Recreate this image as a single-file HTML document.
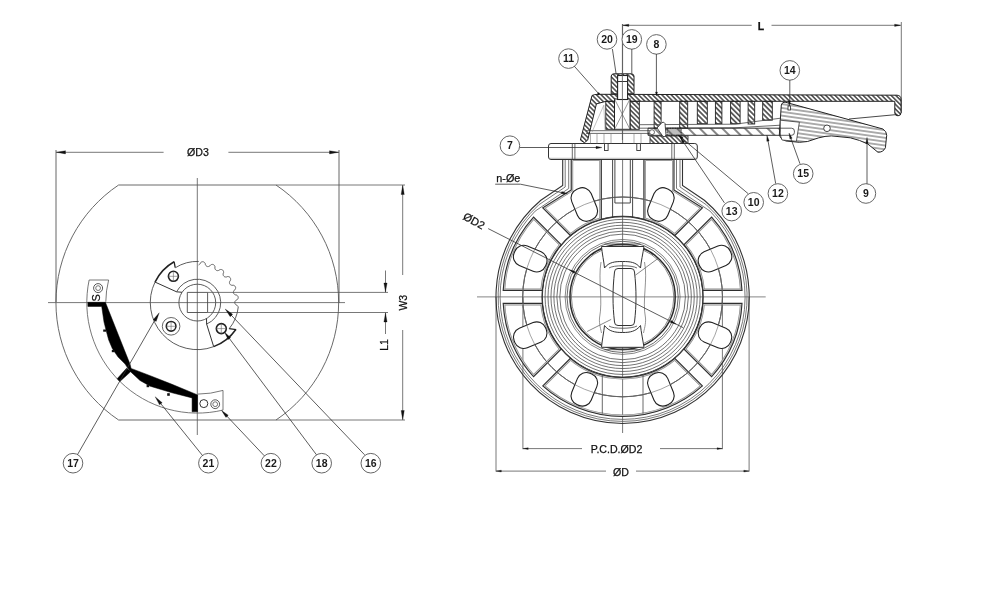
<!DOCTYPE html>
<html><head><meta charset="utf-8"><style>
html,body{margin:0;padding:0;background:#fff;}
svg{display:block;filter:blur(0.35px);font-family:"Liberation Sans",sans-serif;}
</style></head><body>
<svg width="1000" height="597" viewBox="0 0 1000 597">
<defs><pattern id="h45" patternUnits="userSpaceOnUse" width="3.3" height="3.3" patternTransform="rotate(-45)"><line x1="1.65" y1="0" x2="1.65" y2="3.3" stroke="#2a2a2a" stroke-width="1.3"/></pattern><pattern id="h45w" patternUnits="userSpaceOnUse" width="3.6" height="3.6" patternTransform="rotate(-45)"><line x1="1.8" y1="0" x2="1.8" y2="3.6" stroke="#2a2a2a" stroke-width="1.4"/></pattern><pattern id="h45c" patternUnits="userSpaceOnUse" width="8" height="8" patternTransform="rotate(-45)"><line x1="4.0" y1="0" x2="4.0" y2="8" stroke="#222" stroke-width="1.1"/></pattern><pattern id="hlev" patternUnits="userSpaceOnUse" width="4" height="3.8" patternTransform="rotate(8)"><line x1="0" y1="1.9" x2="4" y2="1.9" stroke="#444" stroke-width="0.9"/></pattern><pattern id="hfine" patternUnits="userSpaceOnUse" width="2" height="2" patternTransform="rotate(60)"><line x1="1.0" y1="0" x2="1.0" y2="2" stroke="#444" stroke-width="0.7"/></pattern><clipPath id="pk1"><path d="M702.94,303.4 L742.02,303.4 A119.6,119.6 0 0 1 711.64,376.75 L684,349.11 A80.6,80.6 0 0 0 702.94,303.4 Z"/></clipPath><clipPath id="pk2"><path d="M674.81,358.3 L702.45,385.94 A119.6,119.6 0 0 1 542.75,385.94 L570.39,358.3 A80.6,80.6 0 0 0 674.81,358.3 Z"/></clipPath><clipPath id="pk3"><path d="M561.2,349.11 L533.56,376.75 A119.6,119.6 0 0 1 503.18,303.4 L542.26,303.4 A80.6,80.6 0 0 0 561.2,349.11 Z"/></clipPath><clipPath id="pk4"><path d="M542.26,290.4 L503.18,290.4 A119.6,119.6 0 0 1 533.56,217.05 L561.2,244.69 A80.6,80.6 0 0 0 542.26,290.4 Z"/></clipPath><clipPath id="pk5"><path d="M684,244.69 L711.64,217.05 A119.6,119.6 0 0 1 742.02,290.4 L702.94,290.4 A80.6,80.6 0 0 0 684,244.69 Z"/></clipPath><clipPath id="pk6"><path d="M570.39,235.5 L542.75,207.86 L571.2,190 L571.2,159 L601.3,159 L601.3,219.17 A80.6,80.6 0 0 0 570.39,235.5 Z"/></clipPath><clipPath id="pk7"><path d="M674.81,235.5 L702.45,207.86 L674,190 L674,159 L643.9,159 L643.9,219.17 A80.6,80.6 0 0 1 674.81,235.5 Z"/></clipPath></defs>
<rect width="1000" height="597" fill="#fff"/>
<path d="M118.61,185 H275.99 A141.5,141.5 0 0 1 275.99,420 H118.61 A141.5,141.5 0 0 1 118.61,185 Z" stroke="#6a6a6a" stroke-width="1.0" fill="none" />
<line x1="275.99" y1="185" x2="405" y2="185" stroke="#555" stroke-width="0.8" />
<line x1="275.99" y1="420" x2="405" y2="420" stroke="#555" stroke-width="0.8" />
<line x1="197.3" y1="178" x2="197.3" y2="435" stroke="#555" stroke-width="0.8" />
<line x1="48" y1="302.6" x2="345" y2="302.6" stroke="#555" stroke-width="0.8" />
<line x1="56" y1="150" x2="56" y2="302" stroke="#555" stroke-width="0.9" />
<line x1="339" y1="150" x2="339" y2="303" stroke="#555" stroke-width="0.9" />
<line x1="56" y1="152.3" x2="163.6" y2="152.3" stroke="#555" stroke-width="0.8" />
<line x1="228.4" y1="152.3" x2="339" y2="152.3" stroke="#555" stroke-width="0.8" />
<path d="M56.5,152.3 L65.5,150.7 L65.5,153.9 Z" stroke="#111" stroke-width="0.3" fill="#111" />
<path d="M338.5,152.3 L329.5,153.9 L329.5,150.7 Z" stroke="#111" stroke-width="0.3" fill="#111" />
<text x="198" y="151.5" font-size="10.6" font-weight="normal" text-anchor="middle" dominant-baseline="central" fill="#111" stroke="#111" stroke-width="0.25">ØD3</text>
<line x1="402.7" y1="185" x2="402.7" y2="275" stroke="#555" stroke-width="0.8" />
<line x1="402.7" y1="330" x2="402.7" y2="420" stroke="#555" stroke-width="0.8" />
<path d="M402.7,185.5 L404.3,194.5 L401.1,194.5 Z" stroke="#111" stroke-width="0.3" fill="#111" />
<path d="M402.7,419.5 L401.1,410.5 L404.3,410.5 Z" stroke="#111" stroke-width="0.3" fill="#111" />
<text x="402.6" y="302.7" font-size="10.5" font-weight="normal" text-anchor="middle" dominant-baseline="central" fill="#111" transform="rotate(-90 402.6 302.7)" stroke="#111" stroke-width="0.25">W3</text>
<line x1="207.6" y1="292.4" x2="388" y2="292.4" stroke="#555" stroke-width="0.8" />
<line x1="207.6" y1="312.5" x2="388" y2="312.5" stroke="#555" stroke-width="0.8" />
<line x1="385.5" y1="270.5" x2="385.5" y2="292.4" stroke="#555" stroke-width="0.8" />
<line x1="385.5" y1="312.5" x2="385.5" y2="334" stroke="#555" stroke-width="0.8" />
<path d="M385.5,292 L383.9,283 L387.1,283 Z" stroke="#111" stroke-width="0.3" fill="#111" />
<path d="M385.5,313 L387.1,322 L383.9,322 Z" stroke="#111" stroke-width="0.3" fill="#111" />
<text x="384.4" y="345" font-size="10.5" font-weight="normal" text-anchor="middle" dominant-baseline="central" fill="#111" transform="rotate(-90 384.4 345)" stroke="#111" stroke-width="0.25">L1</text>
<path d="M176.54,291.8 A23.4,23.4 0 1 1 206.63,324.06" stroke="#4a4a4a" stroke-width="0.9" fill="none" />
<circle cx="197.3" cy="302.6" r="18.4" stroke="#4a4a4a" stroke-width="0.9" fill="none" />
<path d="M187.3,292.4 L207.6,292.4 L207.6,312.5 L187.3,312.5 Z" stroke="#4a4a4a" stroke-width="0.9" fill="none" />
<path d="M213.68,346.65 A47,47 0 0 1 155.02,282.07" stroke="#4a4a4a" stroke-width="0.9" fill="none" />
<path d="M155.02,282.07 A47,47 0 0 1 174.08,261.73" stroke="#222" stroke-width="1.5" fill="none" />
<path d="M174.08,261.73 L175.23,267.69" stroke="#222" stroke-width="1.3" fill="none" />
<path d="M175.28,267.78 A41.2,41.2 0 0 1 198.74,261.43" stroke="#4a4a4a" stroke-width="0.9" fill="none" />
<path d="M198.61,264.96 L198.82,264.86 L199.04,264.74 L199.25,264.6 L199.47,264.44 L199.69,264.24 L199.92,263.99 L200.16,263.61 L200.43,262.9 L200.67,262.61 L200.91,262.39 L201.15,262.22 L201.39,262.08 L201.62,261.96 L201.86,261.87 L202.09,261.8 L202.32,261.76 L202.55,261.73 L202.78,261.73 L203.01,261.75 L203.23,261.79 L203.45,261.85 L203.66,261.93 L203.88,262.03 L204.08,262.15 L204.29,262.3 L204.48,262.46 L204.67,262.66 L204.86,262.88 L205.03,263.14 L205.19,263.46 L205.3,263.99 L205.38,264.65 L205.53,264.98 L205.69,265.25 L205.85,265.47 L206.01,265.68 L206.19,265.85 L206.36,266.01 L206.54,266.15 L206.72,266.27 L206.91,266.36 L207.1,266.45 L207.29,266.51 L207.49,266.55 L207.7,266.58 L207.91,266.59 L208.13,266.58 L208.35,266.55 L208.58,266.5 L208.82,266.43 L209.07,266.34 L209.33,266.22 L209.6,266.07 L209.9,265.85 L210.33,265.25 L210.67,264.93 L210.97,264.75 L211.25,264.62 L211.52,264.53 L211.79,264.46 L212.04,264.42 L212.29,264.41 L212.53,264.41 L212.76,264.44 L212.99,264.48 L213.2,264.54 L213.41,264.63 L213.61,264.73 L213.81,264.85 L213.99,265 L214.16,265.16 L214.33,265.34 L214.48,265.54 L214.62,265.76 L214.75,266.01 L214.86,266.29 L214.95,266.6 L215,267 L214.86,267.76 L214.89,268.17 L214.96,268.5 L215.05,268.78 L215.15,269.03 L215.27,269.26 L215.39,269.46 L215.52,269.65 L215.66,269.82 L215.81,269.98 L215.97,270.11 L216.14,270.23 L216.32,270.33 L216.5,270.42 L216.7,270.49 L216.91,270.55 L217.12,270.59 L217.35,270.61 L217.59,270.61 L217.85,270.6 L218.12,270.57 L218.41,270.51 L218.73,270.41 L219.11,270.22 L219.7,269.73 L220.06,269.58 L220.38,269.51 L220.68,269.47 L220.96,269.47 L221.22,269.48 L221.47,269.52 L221.71,269.57 L221.93,269.65 L222.15,269.74 L222.35,269.85 L222.54,269.97 L222.71,270.11 L222.87,270.27 L223.02,270.45 L223.16,270.64 L223.28,270.85 L223.38,271.07 L223.47,271.32 L223.54,271.58 L223.59,271.86 L223.62,272.17 L223.6,272.52 L223.48,272.99 L223.18,273.65 L223.14,274.01 L223.14,274.32 L223.16,274.6 L223.21,274.86 L223.26,275.1 L223.34,275.33 L223.42,275.54 L223.52,275.73 L223.63,275.91 L223.75,276.08 L223.89,276.23 L224.04,276.37 L224.21,276.5 L224.38,276.61 L224.58,276.71 L224.78,276.8 L225.01,276.87 L225.25,276.93 L225.5,276.98 L225.78,277.01 L226.09,277.01 L226.45,276.98 L227.09,276.7 L227.59,276.56 L227.94,276.55 L228.25,276.57 L228.53,276.63 L228.8,276.7 L229.04,276.79 L229.26,276.89 L229.47,277.02 L229.66,277.15 L229.84,277.3 L230,277.46 L230.14,277.64 L230.26,277.83 L230.37,278.03 L230.46,278.24 L230.54,278.46 L230.59,278.7 L230.62,278.95 L230.64,279.22 L230.63,279.49 L230.59,279.79 L230.52,280.1 L230.38,280.46 L229.89,281.04 L229.69,281.43 L229.58,281.75 L229.52,282.04 L229.48,282.31 L229.46,282.57 L229.46,282.81 L229.48,283.04 L229.52,283.26 L229.57,283.47 L229.64,283.67 L229.72,283.85 L229.83,284.03 L229.94,284.2 L230.08,284.36 L230.23,284.51 L230.39,284.66 L230.58,284.79 L230.78,284.92 L231.01,285.03 L231.26,285.14 L231.54,285.23 L231.85,285.31 L232.26,285.34 L233.02,285.21 L233.43,285.26 L233.75,285.35 L234.02,285.46 L234.27,285.59 L234.49,285.73 L234.7,285.89 L234.88,286.05 L235.04,286.23 L235.18,286.41 L235.3,286.6 L235.41,286.81 L235.49,287.02 L235.55,287.23 L235.6,287.46 L235.62,287.69 L235.62,287.93 L235.6,288.18 L235.56,288.43 L235.5,288.69 L235.41,288.96 L235.28,289.24 L235.1,289.54 L234.79,289.87 L234.18,290.3 L233.95,290.6 L233.79,290.87 L233.67,291.13 L233.57,291.38 L233.5,291.62 L233.45,291.85 L233.42,292.07 L233.41,292.29 L233.41,292.5 L233.43,292.71 L233.48,292.91 L233.53,293.11 L233.61,293.3 L233.71,293.49 L233.82,293.67 L233.96,293.85 L234.11,294.02 L234.29,294.2 L234.48,294.37 L234.71,294.53 L234.97,294.69 L235.29,294.84 L235.83,294.95 L236.48,295.04 L236.81,295.2 L237.07,295.38 L237.29,295.56 L237.48,295.76 L237.65,295.95 L237.8,296.16 L237.92,296.36 L238.02,296.58 L238.1,296.79 L238.16,297.01 L238.2,297.23 L238.22,297.46 L238.21,297.69 L238.19,297.92 L238.14,298.15 L238.07,298.38 L237.98,298.62 L237.87,298.85 L237.72,299.09 L237.55,299.32 L237.33,299.56 L237.05,299.8 L236.36,300.07 L235.96,300.3 L235.7,300.53 L235.49,300.75 L235.32,300.97 L235.18,301.18 L235.06,301.39 L234.96,301.6 L234.88,301.81 L234.82,302.01 L234.78,302.22 L234.75,302.43 L234.75,302.63 L234.77,302.84 L234.8,303.04 L234.85,303.25 L234.93,303.45 L235.02,303.66 L235.13,303.87 L235.27,304.09 L235.43,304.3 L235.62,304.52 L235.85,304.74 L236.17,304.97 L236.9,305.23 L237.24,305.48 L237.48,305.72 L237.67,305.95 L237.82,306.19 L237.95,306.42 L238.05,306.66 L238.13,306.89" stroke="#4a4a4a" stroke-width="0.9" fill="none" />
<path d="M238.27,306.91 A41.2,41.2 0 0 1 229.18,328.7" stroke="#4a4a4a" stroke-width="0.9" fill="none" />
<path d="M229.18,328.7 L236.18,329.72" stroke="#222" stroke-width="1.3" fill="none" />
<path d="M235.85,329.49 A47,47 0 0 1 213.68,346.65" stroke="#222" stroke-width="1.5" fill="none" />
<path d="M155.02,282.07 L176.54,291.8 L182.05,292.31" stroke="#333" stroke-width="1.0" fill="none" />
<path d="M213.68,346.65 L206.63,324.06 L206.5,318.53" stroke="#333" stroke-width="1.0" fill="none" />
<circle cx="173.4" cy="276.3" r="5" stroke="#222" stroke-width="1.6" fill="none" />
<line x1="168.4" y1="276.3" x2="178.4" y2="276.3" stroke="#666" stroke-width="0.6" />
<line x1="173.4" y1="271.3" x2="173.4" y2="281.3" stroke="#666" stroke-width="0.6" />
<circle cx="171.1" cy="326.3" r="8.8" stroke="#555" stroke-width="0.9" fill="none" />
<circle cx="171.1" cy="326.3" r="4.8" stroke="#222" stroke-width="1.6" fill="none" />
<line x1="166.3" y1="326.3" x2="175.9" y2="326.3" stroke="#666" stroke-width="0.6" />
<line x1="171.1" y1="321.5" x2="171.1" y2="331.1" stroke="#666" stroke-width="0.6" />
<circle cx="221.3" cy="328.6" r="5" stroke="#222" stroke-width="1.6" fill="none" />
<line x1="216.3" y1="328.6" x2="226.3" y2="328.6" stroke="#666" stroke-width="0.6" />
<line x1="221.3" y1="323.6" x2="221.3" y2="333.6" stroke="#666" stroke-width="0.6" />
<path d="M223,410.07 A110.5,110.5 0 0 1 89.14,280" stroke="#555" stroke-width="0.8" fill="none" />
<path d="M89.14,280 L108.63,280" stroke="#555" stroke-width="0.8" fill="none" />
<path d="M105.8,301.8 A91.5,91.5 0 0 1 108.63,280" stroke="#555" stroke-width="0.8" fill="none" />
<path d="M223,390.42 A91.5,91.5 0 0 1 197.8,394.1" stroke="#555" stroke-width="0.8" fill="none" />
<path d="M223,390.42 L223,410.07" stroke="#555" stroke-width="0.8" fill="none" />
<circle cx="98.1" cy="288.1" r="4.5" stroke="#444" stroke-width="0.9" fill="none" />
<circle cx="98.1" cy="288.1" r="2.4" stroke="#555" stroke-width="0.8" fill="none" />
<text x="96.4" y="297.8" font-size="11" font-weight="normal" text-anchor="middle" dominant-baseline="central" fill="#111" transform="rotate(-90 96.4 297.8)" stroke="#111" stroke-width="0.25">S</text>
<circle cx="203.8" cy="403.6" r="4" stroke="#333" stroke-width="1.0" fill="none" />
<circle cx="215.2" cy="404.2" r="4.4" stroke="#444" stroke-width="0.9" fill="none" />
<circle cx="215.2" cy="404.2" r="2.4" stroke="#555" stroke-width="0.8" fill="none" />
<path d="M87.9,302.3 L105.4,302.3 L118.8,336 L124.4,350.1 L130,364.1 L131.1,368.4 L150.2,375.7 L172,384.3 L197.6,394.9 L197.6,411.8 L192.1,411.8 L192.1,397.9 L172,392.8 L150.2,386.2 L140,380.5 L131.1,372.2 L127.9,368.3 L125.1,364.1 L118.1,357.1 L112.4,348.7 L108.7,340 L106.4,331.5 L104,322.1 L101.7,306.4 L87.9,306.4 Z" stroke="#000" stroke-width="0.5" fill="#000" />
<path d="M126.6,368.2 L130.8,371.6 L119.8,381.6 L117.2,378.7 Z" stroke="#000" stroke-width="0.5" fill="#000" />
<rect x="103.2" y="329.5" width="3" height="2.2" fill="#111"/>
<rect x="111.8" y="350" width="2.8" height="2.2" fill="#111"/>
<rect x="146.6" y="384.6" width="2.6" height="2.6" fill="#111"/>
<rect x="167.2" y="393.2" width="2.6" height="2.6" fill="#111"/>
<circle cx="73" cy="463.2" r="9.8" stroke="#666" stroke-width="1.0" fill="#fff" />
<text x="73" y="462.6" font-size="10.5" font-weight="bold" text-anchor="middle" dominant-baseline="central" fill="#1a1a1a" >17</text>
<circle cx="208.4" cy="463.2" r="9.8" stroke="#666" stroke-width="1.0" fill="#fff" />
<text x="208.4" y="462.6" font-size="10.5" font-weight="bold" text-anchor="middle" dominant-baseline="central" fill="#1a1a1a" >21</text>
<circle cx="270.9" cy="463.2" r="9.8" stroke="#666" stroke-width="1.0" fill="#fff" />
<text x="270.9" y="462.6" font-size="10.5" font-weight="bold" text-anchor="middle" dominant-baseline="central" fill="#1a1a1a" >22</text>
<circle cx="321.7" cy="463.2" r="9.8" stroke="#666" stroke-width="1.0" fill="#fff" />
<text x="321.7" y="462.6" font-size="10.5" font-weight="bold" text-anchor="middle" dominant-baseline="central" fill="#1a1a1a" >18</text>
<circle cx="370.8" cy="463.2" r="9.8" stroke="#666" stroke-width="1.0" fill="#fff" />
<text x="370.8" y="462.6" font-size="10.5" font-weight="bold" text-anchor="middle" dominant-baseline="central" fill="#1a1a1a" >16</text>
<line x1="77.5" y1="454.6" x2="157.5" y2="315.5" stroke="#333" stroke-width="0.8" />
<path d="M159.2,312.8 L156.17,321.44 L153.23,319.74 Z" stroke="#111" stroke-width="0.3" fill="#111" />
<line x1="202.5" y1="455.5" x2="157" y2="399" stroke="#333" stroke-width="0.8" />
<path d="M155.2,396.8 L162.18,402.73 L159.53,404.87 Z" stroke="#111" stroke-width="0.3" fill="#111" />
<line x1="264.3" y1="455.8" x2="222.8" y2="411.8" stroke="#333" stroke-width="0.8" />
<path d="M221.6,410.5 L228.25,415.22 L225.93,417.42 Z" stroke="#111" stroke-width="0.3" fill="#111" />
<line x1="316.5" y1="454.8" x2="226" y2="334" stroke="#333" stroke-width="0.8" />
<path d="M224.6,332.2 L230.68,337.64 L228.12,339.56 Z" stroke="#111" stroke-width="0.3" fill="#111" />
<line x1="364.6" y1="454.8" x2="228" y2="311.8" stroke="#333" stroke-width="0.8" />
<path d="M225.2,309 L232.65,314.32 L230.2,316.67 Z" stroke="#111" stroke-width="0.3" fill="#111" />
<line x1="622.6" y1="24" x2="622.6" y2="433" stroke="#555" stroke-width="0.8" />
<line x1="477" y1="296.9" x2="765.7" y2="296.9" stroke="#777" stroke-width="0.9" />
<line x1="522.9" y1="297" x2="522.9" y2="449.2" stroke="#555" stroke-width="0.8" />
<line x1="722.4" y1="297" x2="722.4" y2="449.2" stroke="#555" stroke-width="0.8" />
<line x1="522.9" y1="448.6" x2="582" y2="448.6" stroke="#555" stroke-width="0.8" />
<line x1="660" y1="448.6" x2="722.4" y2="448.6" stroke="#555" stroke-width="0.8" />
<path d="M523.2,448.6 L528.2,447.7 L528.2,449.5 Z" stroke="#111" stroke-width="0.3" fill="#111" />
<path d="M722.1,448.6 L717.1,449.5 L717.1,447.7 Z" stroke="#111" stroke-width="0.3" fill="#111" />
<text x="616.5" y="449.2" font-size="10.6" font-weight="normal" text-anchor="middle" dominant-baseline="central" fill="#111" stroke="#111" stroke-width="0.25">P.C.D.ØD2</text>
<line x1="496" y1="297" x2="496" y2="471.6" stroke="#555" stroke-width="0.8" />
<line x1="749.1" y1="297" x2="749.1" y2="471.6" stroke="#555" stroke-width="0.8" />
<line x1="496" y1="471.1" x2="606" y2="471.1" stroke="#555" stroke-width="0.8" />
<line x1="636" y1="471.1" x2="749.1" y2="471.1" stroke="#555" stroke-width="0.8" />
<path d="M496.3,471.1 L501.3,470.2 L501.3,472 Z" stroke="#111" stroke-width="0.3" fill="#111" />
<path d="M748.8,471.1 L743.8,472 L743.8,470.2 Z" stroke="#111" stroke-width="0.3" fill="#111" />
<text x="621" y="471.5" font-size="10.6" font-weight="normal" text-anchor="middle" dominant-baseline="central" fill="#111" stroke="#111" stroke-width="0.25">ØD</text>
<line x1="622.4" y1="25.3" x2="751.7" y2="25.3" stroke="#555" stroke-width="0.8" />
<line x1="771.5" y1="25.3" x2="900.7" y2="25.3" stroke="#555" stroke-width="0.8" />
<path d="M622.8,25.3 L628.8,24.2 L628.8,26.4 Z" stroke="#111" stroke-width="0.3" fill="#111" />
<path d="M900.6,25.3 L894.6,26.4 L894.6,24.2 Z" stroke="#111" stroke-width="0.3" fill="#111" />
<line x1="901.3" y1="22" x2="901.3" y2="113" stroke="#555" stroke-width="0.8" />
<text x="761" y="26" font-size="10.5" font-weight="bold" text-anchor="middle" dominant-baseline="central" fill="#111" stroke="#111" stroke-width="0.25">L</text>
<path d="M562.7,159.5 L562.7,185.5 L540.83,200.25 A126.6,126.6 0 1 0 704.37,200.25 L682.5,185.5 L682.5,159.5" stroke="#333" stroke-width="1.1" fill="none" />
<path d="M565.2,159.5 L565.2,187 L538.89,204.74 A124.5,124.5 0 1 0 706.31,204.74 L680,187 L680,159.5" stroke="#555" stroke-width="0.8" fill="none" />
<path d="M568.7,159.5 L568.7,188.5 L535.13,211.14 A122.5,122.5 0 1 0 710.07,211.14 L676.5,188.5 L676.5,159.5" stroke="#555" stroke-width="0.8" fill="none" />
<circle cx="622.6" cy="296.9" r="80.4" stroke="#2a2a2a" stroke-width="1.3" fill="none" />
<circle cx="622.6" cy="296.9" r="62.8" stroke="#444" stroke-width="0.75" fill="none" />
<circle cx="622.6" cy="296.9" r="65.75" stroke="#444" stroke-width="0.75" fill="none" />
<circle cx="622.6" cy="296.9" r="68.7" stroke="#444" stroke-width="0.75" fill="none" />
<circle cx="622.6" cy="296.9" r="71.65" stroke="#444" stroke-width="0.75" fill="none" />
<circle cx="622.6" cy="296.9" r="74.6" stroke="#444" stroke-width="0.75" fill="none" />
<circle cx="622.6" cy="296.9" r="77.55" stroke="#444" stroke-width="0.75" fill="none" />
<circle cx="622.6" cy="296.9" r="80.5" stroke="#444" stroke-width="0.75" fill="none" />
<circle cx="622.6" cy="296.9" r="57.5" stroke="#555" stroke-width="0.7" fill="none" />
<circle cx="622.6" cy="296.9" r="55.6" stroke="#444" stroke-width="0.8" fill="none" />
<circle cx="622.6" cy="296.9" r="52.6" stroke="#2a2a2a" stroke-width="1.5" fill="none" />
<circle cx="622.6" cy="296.9" r="51.2" stroke="#555" stroke-width="0.7" fill="none" />
<circle cx="622.6" cy="296.9" r="99.9" stroke="#555" stroke-width="0.8" fill="none" />
<path d="M702.94,303.4 L742.02,303.4 A119.6,119.6 0 0 1 711.64,376.75 L684,349.11 A80.6,80.6 0 0 0 702.94,303.4 Z" stroke="#8a8a8a" stroke-width="4.0" fill="none" clip-path="url(#pk1)"/>
<path d="M702.94,303.4 L742.02,303.4 A119.6,119.6 0 0 1 711.64,376.75 L684,349.11 A80.6,80.6 0 0 0 702.94,303.4 Z" stroke="#d0d0d0" stroke-width="2.6" fill="none" clip-path="url(#pk1)"/>
<path d="M702.94,303.4 L742.02,303.4 A119.6,119.6 0 0 1 711.64,376.75 L684,349.11 A80.6,80.6 0 0 0 702.94,303.4 Z" stroke="#2e2e2e" stroke-width="1.1" fill="none" />
<path d="M674.81,358.3 L702.45,385.94 A119.6,119.6 0 0 1 542.75,385.94 L570.39,358.3 A80.6,80.6 0 0 0 674.81,358.3 Z" stroke="#8a8a8a" stroke-width="4.0" fill="none" clip-path="url(#pk2)"/>
<path d="M674.81,358.3 L702.45,385.94 A119.6,119.6 0 0 1 542.75,385.94 L570.39,358.3 A80.6,80.6 0 0 0 674.81,358.3 Z" stroke="#d0d0d0" stroke-width="2.6" fill="none" clip-path="url(#pk2)"/>
<path d="M674.81,358.3 L702.45,385.94 A119.6,119.6 0 0 1 542.75,385.94 L570.39,358.3 A80.6,80.6 0 0 0 674.81,358.3 Z" stroke="#2e2e2e" stroke-width="1.1" fill="none" />
<path d="M561.2,349.11 L533.56,376.75 A119.6,119.6 0 0 1 503.18,303.4 L542.26,303.4 A80.6,80.6 0 0 0 561.2,349.11 Z" stroke="#8a8a8a" stroke-width="4.0" fill="none" clip-path="url(#pk3)"/>
<path d="M561.2,349.11 L533.56,376.75 A119.6,119.6 0 0 1 503.18,303.4 L542.26,303.4 A80.6,80.6 0 0 0 561.2,349.11 Z" stroke="#d0d0d0" stroke-width="2.6" fill="none" clip-path="url(#pk3)"/>
<path d="M561.2,349.11 L533.56,376.75 A119.6,119.6 0 0 1 503.18,303.4 L542.26,303.4 A80.6,80.6 0 0 0 561.2,349.11 Z" stroke="#2e2e2e" stroke-width="1.1" fill="none" />
<path d="M542.26,290.4 L503.18,290.4 A119.6,119.6 0 0 1 533.56,217.05 L561.2,244.69 A80.6,80.6 0 0 0 542.26,290.4 Z" stroke="#8a8a8a" stroke-width="4.0" fill="none" clip-path="url(#pk4)"/>
<path d="M542.26,290.4 L503.18,290.4 A119.6,119.6 0 0 1 533.56,217.05 L561.2,244.69 A80.6,80.6 0 0 0 542.26,290.4 Z" stroke="#d0d0d0" stroke-width="2.6" fill="none" clip-path="url(#pk4)"/>
<path d="M542.26,290.4 L503.18,290.4 A119.6,119.6 0 0 1 533.56,217.05 L561.2,244.69 A80.6,80.6 0 0 0 542.26,290.4 Z" stroke="#2e2e2e" stroke-width="1.1" fill="none" />
<path d="M684,244.69 L711.64,217.05 A119.6,119.6 0 0 1 742.02,290.4 L702.94,290.4 A80.6,80.6 0 0 0 684,244.69 Z" stroke="#8a8a8a" stroke-width="4.0" fill="none" clip-path="url(#pk5)"/>
<path d="M684,244.69 L711.64,217.05 A119.6,119.6 0 0 1 742.02,290.4 L702.94,290.4 A80.6,80.6 0 0 0 684,244.69 Z" stroke="#d0d0d0" stroke-width="2.6" fill="none" clip-path="url(#pk5)"/>
<path d="M684,244.69 L711.64,217.05 A119.6,119.6 0 0 1 742.02,290.4 L702.94,290.4 A80.6,80.6 0 0 0 684,244.69 Z" stroke="#2e2e2e" stroke-width="1.1" fill="none" />
<path d="M570.39,235.5 L542.75,207.86 L571.2,190 L571.2,159 L601.3,159 L601.3,219.17 A80.6,80.6 0 0 0 570.39,235.5 Z" stroke="#8a8a8a" stroke-width="4.0" fill="none" clip-path="url(#pk6)"/>
<path d="M570.39,235.5 L542.75,207.86 L571.2,190 L571.2,159 L601.3,159 L601.3,219.17 A80.6,80.6 0 0 0 570.39,235.5 Z" stroke="#d0d0d0" stroke-width="2.6" fill="none" clip-path="url(#pk6)"/>
<path d="M570.39,235.5 L542.75,207.86 L571.2,190 L571.2,159 L601.3,159 L601.3,219.17 A80.6,80.6 0 0 0 570.39,235.5 Z" stroke="#2e2e2e" stroke-width="1.1" fill="none" />
<path d="M674.81,235.5 L702.45,207.86 L674,190 L674,159 L643.9,159 L643.9,219.17 A80.6,80.6 0 0 1 674.81,235.5 Z" stroke="#8a8a8a" stroke-width="4.0" fill="none" clip-path="url(#pk7)"/>
<path d="M674.81,235.5 L702.45,207.86 L674,190 L674,159 L643.9,159 L643.9,219.17 A80.6,80.6 0 0 1 674.81,235.5 Z" stroke="#d0d0d0" stroke-width="2.6" fill="none" clip-path="url(#pk7)"/>
<path d="M674.81,235.5 L702.45,207.86 L674,190 L674,159 L643.9,159 L643.9,219.17 A80.6,80.6 0 0 1 674.81,235.5 Z" stroke="#2e2e2e" stroke-width="1.1" fill="none" />
<circle cx="622.6" cy="296.9" r="99.9" stroke="#555" stroke-width="0.7" fill="none" />
<path d="M612.6,159.5 L612.6,217.5" stroke="#333" stroke-width="0.9" fill="none" />
<path d="M632.6,159.5 L632.6,217.5" stroke="#333" stroke-width="0.9" fill="none" />
<path d="M614.9,159.5 L614.9,203 L630.3,203 L630.3,159.5" stroke="#333" stroke-width="0.9" fill="none" />
<line x1="602.3" y1="374.7" x2="602.3" y2="413.65" stroke="#444" stroke-width="0.8" />
<line x1="643" y1="374.67" x2="643" y2="413.63" stroke="#444" stroke-width="0.8" />
<rect x="697.99" y="324.67" width="34" height="21" rx="9.5" ry="9.5" fill="#fff" stroke="#222" stroke-width="1.1" transform="rotate(22.5 714.99 335.17)"/>
<rect x="643.87" y="378.79" width="34" height="21" rx="9.5" ry="9.5" fill="#fff" stroke="#222" stroke-width="1.1" transform="rotate(67.5 660.87 389.29)"/>
<rect x="567.33" y="378.79" width="34" height="21" rx="9.5" ry="9.5" fill="#fff" stroke="#222" stroke-width="1.1" transform="rotate(112.5 584.33 389.29)"/>
<rect x="513.21" y="324.67" width="34" height="21" rx="9.5" ry="9.5" fill="#fff" stroke="#222" stroke-width="1.1" transform="rotate(157.5 530.21 335.17)"/>
<rect x="513.21" y="248.13" width="34" height="21" rx="9.5" ry="9.5" fill="#fff" stroke="#222" stroke-width="1.1" transform="rotate(202.5 530.21 258.63)"/>
<rect x="567.33" y="194.01" width="34" height="21" rx="9.5" ry="9.5" fill="#fff" stroke="#222" stroke-width="1.1" transform="rotate(247.5 584.33 204.51)"/>
<rect x="643.87" y="194.01" width="34" height="21" rx="9.5" ry="9.5" fill="#fff" stroke="#222" stroke-width="1.1" transform="rotate(292.5 660.87 204.51)"/>
<rect x="697.99" y="248.13" width="34" height="21" rx="9.5" ry="9.5" fill="#fff" stroke="#222" stroke-width="1.1" transform="rotate(337.5 714.99 258.63)"/>
<circle cx="622.6" cy="296.9" r="99.9" stroke="#666" stroke-width="0.6" fill="none" />
<path d="M601.5,246.5 L644,246.5 C643,253 641,262 640.5,268 C636,262 630,261.5 622.6,261.5 C615,261.5 609,262 604.5,268 C604,262 602,253 601.5,246.5 Z" stroke="#333" stroke-width="1.0" fill="#fff" />
<path d="M601.5,347.3 L644,347.3 C643,341 641,331 640.5,325.5 C636,331.5 630,332.5 622.6,332.5 C615,332.5 609,331.5 604.5,325.5 C604,331 602,341 601.5,347.3 Z" stroke="#333" stroke-width="1.0" fill="#fff" />
<line x1="604.5" y1="349.7" x2="640.5" y2="349.7" stroke="#444" stroke-width="0.8" />
<line x1="604.5" y1="244" x2="640.5" y2="244" stroke="#444" stroke-width="0.8" />
<path d="M614.5,272 Q614.5,268.5 618,268.5 L631,268.5 Q634.5,268.5 634.5,272 C636.5,290 636.5,305 634.5,322 Q634.5,325.5 631,325.5 L618,325.5 Q614.5,325.5 614.5,322 C612.5,305 612.5,290 614.5,272 Z" stroke="#333" stroke-width="1.0" fill="none" />
<path d="M609,268 C613,265 632,265 637,268" stroke="#444" stroke-width="0.8" fill="none" />
<path d="M609,326 C613,329 632,329 637,326" stroke="#444" stroke-width="0.8" fill="none" />
<path d="M601,262 C598,280 603,300 599.5,318 C599,324 601,330 601.5,333" stroke="#666" stroke-width="0.7" fill="none" />
<path d="M644.5,262 C648,280 642,300 645.5,318 C646,324 644,330 643.5,333" stroke="#666" stroke-width="0.7" fill="none" />
<line x1="635.4" y1="275.2" x2="658.5" y2="258.1" stroke="#555" stroke-width="0.7" />
<line x1="611.2" y1="319.4" x2="587.1" y2="331.5" stroke="#555" stroke-width="0.7" />
<line x1="488.2" y1="228.6" x2="683.2" y2="327.7" stroke="#333" stroke-width="0.8" />
<path d="M569.1,269.6 L574.95,271.34 L573.95,273.3 Z" stroke="#111" stroke-width="0.3" fill="#111" />
<path d="M676.2,324.2 L670.35,322.46 L671.35,320.5 Z" stroke="#111" stroke-width="0.3" fill="#111" />
<text x="474.1" y="220.8" font-size="11" font-weight="normal" text-anchor="middle" dominant-baseline="central" fill="#111" transform="rotate(29 474.1 220.8)" stroke="#111" stroke-width="0.25">ØD2</text>
<text x="508.3" y="178.3" font-size="10.8" font-weight="normal" text-anchor="middle" dominant-baseline="central" fill="#111" stroke="#111" stroke-width="0.25">n-Øe</text>
<line x1="495.2" y1="184.2" x2="520.4" y2="184.2" stroke="#333" stroke-width="0.8" />
<line x1="520.4" y1="184.2" x2="565.6" y2="193.4" stroke="#333" stroke-width="0.8" />
<path d="M567.5,193.8 L561.4,193.68 L561.84,191.52 Z" stroke="#111" stroke-width="0.3" fill="#111" />
<rect x="548.5" y="143.5" width="148.8" height="16" rx="2.5" fill="#fff" stroke="#333" stroke-width="1.0"/>
<line x1="549" y1="158.3" x2="697" y2="158.3" stroke="#888" stroke-width="0.6" />
<line x1="572.3" y1="143.5" x2="572.3" y2="159.5" stroke="#444" stroke-width="0.8" />
<line x1="574.9" y1="143.5" x2="574.9" y2="159.5" stroke="#444" stroke-width="0.8" />
<line x1="671.8" y1="143.5" x2="671.8" y2="159.5" stroke="#444" stroke-width="0.8" />
<line x1="674.3" y1="143.5" x2="674.3" y2="159.5" stroke="#444" stroke-width="0.8" />
<rect x="604.5" y="143.5" width="3.6" height="7" fill="#fff" stroke="#333" stroke-width="0.9"/>
<rect x="636.8" y="143.5" width="3.6" height="7" fill="#fff" stroke="#333" stroke-width="0.9"/>
<line x1="519.4" y1="147.5" x2="596" y2="147.5" stroke="#333" stroke-width="0.8" />
<path d="M602,147.5 L596,148.7 L596,146.3 Z" stroke="#111" stroke-width="0.3" fill="#111" />
<line x1="586" y1="130.7" x2="650" y2="130.7" stroke="#444" stroke-width="0.8" />
<line x1="586" y1="133.4" x2="650" y2="133.4" stroke="#444" stroke-width="0.8" />
<line x1="590.5" y1="133.4" x2="590.5" y2="143.5" stroke="#777" stroke-width="0.6" />
<line x1="597" y1="133.4" x2="597" y2="143.5" stroke="#777" stroke-width="0.6" />
<line x1="604" y1="133.4" x2="604" y2="143.5" stroke="#777" stroke-width="0.6" />
<line x1="611" y1="133.4" x2="611" y2="143.5" stroke="#777" stroke-width="0.6" />
<line x1="634" y1="133.4" x2="634" y2="143.5" stroke="#777" stroke-width="0.6" />
<line x1="641" y1="133.4" x2="641" y2="143.5" stroke="#777" stroke-width="0.6" />
<rect x="650" y="136" width="38" height="7.5" fill="url(#h45)" stroke="#333" stroke-width="0.9"/>
<path d="M592,95.5 Q594,94.3 599,94.3 L897,95.2 Q901.1,95.5 901.1,99.5 L901.1,112.5 Q901,115.8 898,115.8 Q895,115.8 894.8,113 L894.8,101.3 L606,101.3 L596.4,103.9 L587.7,140.1 L584.4,142.7 L580.4,140.1 Z" stroke="#222" stroke-width="1.0" fill="url(#h45)" />
<rect x="605.8" y="101.3" width="8.7" height="28" fill="url(#h45)" stroke="#222" stroke-width="0.9"/>
<rect x="630" y="101.3" width="9.3" height="28" fill="url(#h45)" stroke="#222" stroke-width="0.9"/>
<rect x="614.5" y="99" width="15.5" height="30.3" fill="#fff" stroke="#222" stroke-width="1.0"/>
<line x1="614.5" y1="99" x2="630" y2="129.3" stroke="#555" stroke-width="0.6" />
<line x1="630" y1="99" x2="614.5" y2="129.3" stroke="#555" stroke-width="0.6" />
<path d="M611.2,93.8 L611.2,76 Q611.5,73.8 614,73.8 L631.2,73.8 Q633.8,73.8 634,76 L634,93.8 Z" fill="url(#h45)" stroke="#222" stroke-width="1.0"/>
<rect x="617.6" y="75.5" width="10" height="24" fill="#fff" stroke="#222" stroke-width="1.1"/>
<line x1="617.6" y1="81.5" x2="627.6" y2="81.5" stroke="#333" stroke-width="1.0" />
<line x1="622.4" y1="24" x2="622.4" y2="140" stroke="#555" stroke-width="0.8" />
<line x1="603.8" y1="105.2" x2="592" y2="132" stroke="#888" stroke-width="0.5" />
<line x1="603.8" y1="105.2" x2="605" y2="130" stroke="#888" stroke-width="0.5" />
<rect x="654.1" y="101.3" width="7" height="26.9" fill="url(#h45w)" stroke="#222" stroke-width="0.9"/>
<rect x="679.7" y="101.3" width="8" height="26.9" fill="url(#h45w)" stroke="#222" stroke-width="0.9"/>
<rect x="697.3" y="101.3" width="10" height="22.4" fill="url(#h45w)" stroke="#222" stroke-width="0.9"/>
<rect x="715.4" y="101.3" width="6.5" height="22.4" fill="url(#h45w)" stroke="#222" stroke-width="0.9"/>
<rect x="730.6" y="101.3" width="9.5" height="22.4" fill="url(#h45w)" stroke="#222" stroke-width="0.9"/>
<rect x="748.1" y="101.3" width="6.6" height="22.7" fill="url(#h45w)" stroke="#222" stroke-width="0.9"/>
<rect x="762.7" y="101.3" width="9.6" height="18.9" fill="url(#h45w)" stroke="#222" stroke-width="0.9"/>
<path d="M640,124.7 L735,124.2 L780.5,118.2" stroke="#444" stroke-width="0.8" fill="none" />
<path d="M640,128.2 L735,127.8 L780.5,125.2" stroke="#444" stroke-width="0.8" fill="none" />
<path d="M648,128.2 L791.5,128.2 Q794.4,128.2 794.4,131 L794.4,132.5 Q794.4,135.3 791.5,135.3 L648,135.3 Z" fill="url(#h45c)" stroke="#222" stroke-width="0.9"/>
<rect x="667.1" y="128.3" width="14.1" height="7" fill="url(#hfine)" stroke="#222" stroke-width="0.9" stroke-dasharray="1.5,1"/>
<circle cx="652" cy="132.2" r="2.5" stroke="#444" stroke-width="0.8" fill="#fff" />
<path d="M657,128 L662,122.5 Q664,121.5 665,123.5 L666,135 Q665,137.5 663,136.5 Z" stroke="#333" stroke-width="0.9" fill="#fff" />
<path d="M781.3,105 Q782,102.1 785,102.1 L882.9,129 Q886.7,131.5 886.7,135.3 L885.4,147.8 Q883,152.5 877.9,152.2 L867.8,144 Q860,140 850.3,137.8 L831.4,135.9 Q825,136 818.8,137.8 L807.5,141.5 L799.4,142.3 L786,141 Q781,140 779.3,135.3 Z" stroke="#222" stroke-width="1.0" fill="url(#hlev)" />
<path d="M780.3,120.2 L799.4,122.2 L796.4,141.3 L782,140 L780.3,135 Z" fill="#fff" stroke="#333" stroke-width="0.8"/>
<path d="M779,128.2 L791.5,128.2 Q794.4,128.2 794.4,131 L794.4,132.5 Q794.4,135.3 791.5,135.3 L779,135.3" fill="none" stroke="#333" stroke-width="0.8"/>
<circle cx="827" cy="128.3" r="3.3" stroke="#333" stroke-width="0.9" fill="#fff" />
<rect x="788" y="106" width="2.6" height="4" fill="#fff" stroke="#222" stroke-width="0.8"/>
<line x1="897.4" y1="114.5" x2="849" y2="119" stroke="#333" stroke-width="0.9" />
<circle cx="607" cy="39.4" r="9.8" stroke="#666" stroke-width="1.0" fill="#fff" />
<text x="607" y="38.8" font-size="10.5" font-weight="bold" text-anchor="middle" dominant-baseline="central" fill="#1a1a1a" >20</text>
<circle cx="631.8" cy="39.4" r="9.8" stroke="#666" stroke-width="1.0" fill="#fff" />
<text x="631.8" y="38.8" font-size="10.5" font-weight="bold" text-anchor="middle" dominant-baseline="central" fill="#1a1a1a" >19</text>
<circle cx="656.4" cy="44.4" r="9.8" stroke="#666" stroke-width="1.0" fill="#fff" />
<text x="656.4" y="43.8" font-size="10.5" font-weight="bold" text-anchor="middle" dominant-baseline="central" fill="#1a1a1a" >8</text>
<circle cx="568.5" cy="58.6" r="9.8" stroke="#666" stroke-width="1.0" fill="#fff" />
<text x="568.5" y="58" font-size="10.5" font-weight="bold" text-anchor="middle" dominant-baseline="central" fill="#1a1a1a" >11</text>
<circle cx="789.8" cy="70.4" r="9.8" stroke="#666" stroke-width="1.0" fill="#fff" />
<text x="789.8" y="69.8" font-size="10.5" font-weight="bold" text-anchor="middle" dominant-baseline="central" fill="#1a1a1a" >14</text>
<circle cx="509.9" cy="145.7" r="9.8" stroke="#666" stroke-width="1.0" fill="#fff" />
<text x="509.9" y="145.1" font-size="10.5" font-weight="bold" text-anchor="middle" dominant-baseline="central" fill="#1a1a1a" >7</text>
<circle cx="803.2" cy="173.7" r="9.8" stroke="#666" stroke-width="1.0" fill="#fff" />
<text x="803.2" y="173.1" font-size="10.5" font-weight="bold" text-anchor="middle" dominant-baseline="central" fill="#1a1a1a" >15</text>
<circle cx="777.9" cy="193.5" r="9.8" stroke="#666" stroke-width="1.0" fill="#fff" />
<text x="777.9" y="192.9" font-size="10.5" font-weight="bold" text-anchor="middle" dominant-baseline="central" fill="#1a1a1a" >12</text>
<circle cx="865.9" cy="193.5" r="9.8" stroke="#666" stroke-width="1.0" fill="#fff" />
<text x="865.9" y="192.9" font-size="10.5" font-weight="bold" text-anchor="middle" dominant-baseline="central" fill="#1a1a1a" >9</text>
<circle cx="753.7" cy="202.3" r="9.8" stroke="#666" stroke-width="1.0" fill="#fff" />
<text x="753.7" y="201.7" font-size="10.5" font-weight="bold" text-anchor="middle" dominant-baseline="central" fill="#1a1a1a" >10</text>
<circle cx="731.7" cy="211.1" r="9.8" stroke="#666" stroke-width="1.0" fill="#fff" />
<text x="731.7" y="210.5" font-size="10.5" font-weight="bold" text-anchor="middle" dominant-baseline="central" fill="#1a1a1a" >13</text>
<line x1="612.4" y1="49" x2="616.2" y2="74.5" stroke="#333" stroke-width="0.8" />
<line x1="631.8" y1="49" x2="631.8" y2="73.7" stroke="#333" stroke-width="0.8" />
<line x1="656.4" y1="54" x2="656.4" y2="95" stroke="#333" stroke-width="0.8" />
<path d="M656.5,96 L655.5,92 L657.5,92 Z" stroke="#111" stroke-width="0.3" fill="#111" />
<line x1="574.3" y1="66.2" x2="598.6" y2="93.6" stroke="#333" stroke-width="0.8" />
<circle cx="598.6" cy="93.6" r="0.9" stroke="#111" stroke-width="0.5" fill="#111" />
<line x1="789.8" y1="80.1" x2="789.8" y2="104" stroke="#333" stroke-width="0.8" />
<path d="M789.3,106 L788.3,101 L790.3,101 Z" stroke="#111" stroke-width="0.3" fill="#111" />
<line x1="800" y1="163.8" x2="790" y2="136" stroke="#333" stroke-width="0.8" />
<path d="M789,133 L792.17,138.23 L789.91,139.05 Z" stroke="#111" stroke-width="0.3" fill="#111" />
<line x1="775.7" y1="183.6" x2="767.5" y2="138" stroke="#333" stroke-width="0.8" />
<path d="M766.9,135.2 L769.16,140.88 L766.8,141.32 Z" stroke="#111" stroke-width="0.3" fill="#111" />
<line x1="867" y1="183.8" x2="867" y2="140" stroke="#333" stroke-width="0.8" />
<path d="M867,137.4 L868.1,143.4 L865.9,143.4 Z" stroke="#111" stroke-width="0.3" fill="#111" />
<line x1="748.2" y1="193.7" x2="680" y2="136.7" stroke="#333" stroke-width="0.8" />
<path d="M677.7,134.7 L683.08,137.61 L681.55,139.46 Z" stroke="#111" stroke-width="0.3" fill="#111" />
<line x1="724.4" y1="202.8" x2="682" y2="140" stroke="#333" stroke-width="0.8" />
<path d="M680.3,137.6 L684.65,141.9 L682.66,143.24 Z" stroke="#111" stroke-width="0.3" fill="#111" />
</svg></body></html>
